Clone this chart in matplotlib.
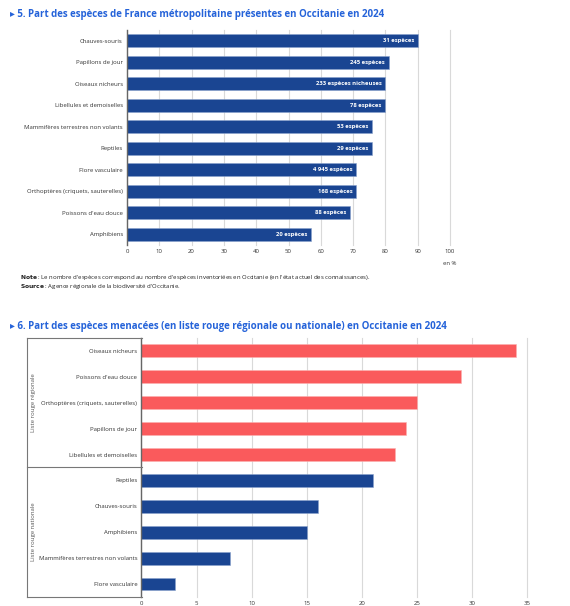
import matplotlib
matplotlib.use("Agg")
from matplotlib import pyplot as plt
from matplotlib.lines import Line2D

plt.rcParams['font.family'] = ['Open Sans', 'DejaVu Sans']

BLUE = '#1a4592'
RED = '#fa5a5c'
TITLE = '#2563d9'
GRID = '#d9d9d9'

# chart 5
presence_labels = ["Chauves-souris", "Papillons de jour", "Oiseaux nicheurs",
                   "Libellules et demoiselles", "Mammifères terrestres non volants",
                   "Reptiles", "Flore vasculaire", "Orthoptères (criquets, sauterelles)",
                   "Poissons d'eau douce", "Amphibiens"]
presence_values = [90, 81, 80, 80, 76, 76, 71, 71, 69, 57]
presence_counts = ["31 espèces", "245 espèces", "233 espèces nicheuses", "78 espèces",
                   "53 espèces", "29 espèces", "4 945 espèces", "168 espèces",
                   "88 espèces", "20 espèces"]

# chart 6
regional_labels = ["Oiseaux nicheurs", "Poissons d'eau douce",
                   "Orthoptères (criquets, sauterelles)", "Papillons de jour",
                   "Libellules et demoiselles"]
regional_values = [34, 29, 25, 24, 23]
national_labels = ["Reptiles", "Chauves-souris", "Amphibiens",
                   "Mammifères terrestres non volants", "Flore vasculaire"]
national_values = [21, 16, 15, 8, 3]


def styleAxis(ax):
    for s in ['top', 'right', 'bottom']:
        ax.spines[s].set_visible(False)
    ax.spines['left'].set_color('#666666')
    ax.spines['left'].set_linewidth(1.0)
    ax.tick_params(axis='both', length=0, labelsize=4.3, colors='#333333', pad=3)
    ax.grid(axis='x', color=GRID, linewidth=0.8)
    ax.set_axisbelow(True)
    for gl in ax.get_xgridlines():
        gl.set_clip_on(False)


fig = plt.figure(figsize=(5.7, 6.06), dpi=100)

# --- chart 5
ax1 = fig.add_axes([0.2228, 0.5957, 0.5667, 0.3548])
ys = range(len(presence_labels))
ax1.barh(ys, presence_values, height=0.6, color=BLUE, edgecolor='#8aa2cc', linewidth=0.4)
for y, v, c in zip(ys, presence_values, presence_counts):
    ax1.text(v - 1.2, y, c, ha='right', va='center', color='white',
             fontsize=4.2, fontweight='bold')
ax1.set_yticks(list(ys))
ax1.set_yticklabels(presence_labels)
ax1.set_ylim(len(presence_labels) - 0.5, -0.5)
ax1.set_xlim(0, 100)
ax1.set_xticks(range(0, 101, 10))
styleAxis(ax1)
ax1.text(100, -0.075, "en %", transform=ax1.get_xaxis_transform(), fontsize=4.3,
         color='#333333', ha='center', va='top')

fig.text(10 / 570, 1 - 14 / 606, "▸ 5. Part des espèces de France métropolitaine présentes en Occitanie en 2024",
         fontsize=7.0, fontweight='bold', color=TITLE, va='center')
fig.text(20 / 570, 1 - 277 / 606,
         r"$\bf{Note}$ : Le nombre d'espèces correspond au nombre d'espèces inventoriées en Occitanie (en l'état actuel des connaissances).",
         fontsize=4.3, color='#222222', va='center')
fig.text(20 / 570, 1 - 286 / 606,
         r"$\bf{Source}$ : Agence régionale de la biodiversité d'Occitanie.",
         fontsize=4.3, color='#222222', va='center')

# --- chart 6
ax2 = fig.add_axes([0.2482, 0.0149, 0.6763, 0.4274])
threat_labels = regional_labels + national_labels
threat_values = regional_values + national_values
colors = [RED] * len(regional_values) + [BLUE] * len(national_values)
edges = ['#fbb0b0'] * len(regional_values) + ['#8aa2cc'] * len(national_values)
ys2 = range(len(threat_labels))
ax2.barh(ys2, threat_values, height=0.5, color=colors, edgecolor=edges, linewidth=0.4)
ax2.set_yticks(list(ys2))
ax2.set_yticklabels(threat_labels)
ax2.set_ylim(len(threat_labels) - 0.5, -0.5)
ax2.set_xlim(0, 35)
ax2.set_xticks(range(0, 36, 5))
styleAxis(ax2)

fig.text(10 / 570, 1 - 326 / 606, "▸ 6. Part des espèces menacées (en liste rouge régionale ou nationale) en Occitanie en 2024",
         fontsize=7.0, fontweight='bold', color=TITLE, va='center')

# group box on the left of chart 6
x_l, x_r = 27 / 570, 141.5 / 570
y_t, y_m, y_b = 1 - 338 / 606, 1 - 467 / 606, 1 - 597 / 606
for xs, yv in [([x_l, x_r], [y_t, y_t]), ([x_l, x_r], [y_m, y_m]),
               ([x_l, x_r], [y_b, y_b]), ([x_l, x_l], [y_t, y_b])]:
    fig.add_artist(Line2D(xs, yv, color='#777777', linewidth=0.8))
fig.text(33 / 570, (y_t + y_m) / 2, "Liste rouge régionale", rotation=90,
         fontsize=4.3, color='#555555', ha='center', va='center')
fig.text(33 / 570, (y_m + y_b) / 2, "Liste rouge nationale", rotation=90,
         fontsize=4.3, color='#555555', ha='center', va='center')

fig.savefig("out.png", dpi=100)
